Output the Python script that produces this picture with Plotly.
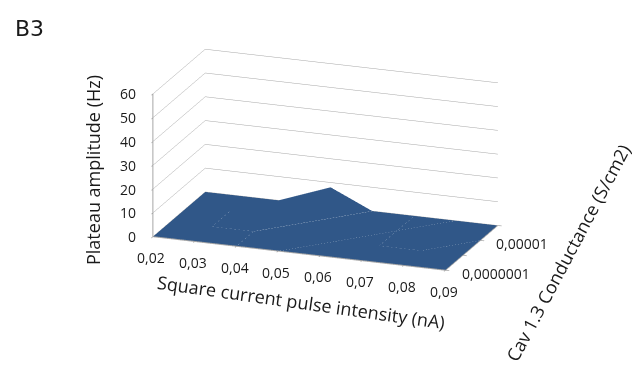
import math
import plotly.graph_objects as go

pulse_intensity = [0.02, 0.03, 0.04, 0.05, 0.06, 0.07, 0.08, 0.09]
pulse_labels = ["0,02", "0,03", "0,04", "0,05", "0,06", "0,07", "0,08", "0,09"]
conductance_rows = [0, 1, 2, 3]
conductance_labels = ["0,0000001", "", "0,00001", ""]
amp_row0 = [0, 0, 0, 0, 0, 0, 0, 0]
amp_row1 = [0, 0, 0, 3, 0, 0, 0, 0]
amp_row2 = [0, 0, 6, 0, 4, 0, 3, 0]
amp_row3 = [0, 0, 0, 8, 0, 0, 0, 0]
amp_rows = [amp_row0, amp_row1, amp_row2, amp_row3]
z_ticks = [0, 10, 20, 30, 40, 50, 60]

TICK_FONT = dict(family="Open Sans", size=14, color="#1a1a1a")
TITLE_FONT = dict(family="Open Sans", size=18, color="#1a1a1a")
GREY = "#a6a6a6"

AZ, EL, DIST = math.radians(20.4), math.radians(14.7), 2.93
eye = dict(x=DIST * math.cos(EL) * math.sin(AZ), y=-DIST * math.cos(EL) * math.cos(AZ), z=DIST * math.sin(EL))

xs, ys, zs, ii, jj, kk = [], [], [], [], [], []
nx = len(pulse_intensity)
for r, row in zip(conductance_rows, amp_rows):
    for x, z in zip(pulse_intensity, row):
        xs.append(x); ys.append(r); zs.append(z)
for r in range(len(conductance_rows) - 1):
    for c in range(nx - 1):
        a = r * nx + c
        b = a + 1
        d = a + nx
        e = d + 1
        ii += [a, a]; jj += [b, e]; kk += [e, d]

fig = go.Figure(go.Mesh3d(
    x=xs, y=ys, z=zs, i=ii, j=jj, k=kk,
    color="#3a6aa6", flatshading=True,
    lighting=dict(ambient=0.82, diffuse=0.55, specular=0.0, roughness=1, fresnel=0),
    lightposition=dict(x=-800, y=-500, z=600),
    hoverinfo="skip", showscale=False,
))

scene_ann = []
for x, t in zip(pulse_intensity, pulse_labels):
    scene_ann.append(dict(x=x, y=0, z=0, text=t, showarrow=False, font=TICK_FONT, xshift=-2, yshift=-21))
for r, t in zip(conductance_rows, conductance_labels):
    if t:
        scene_ann.append(dict(x=pulse_intensity[-1], y=r, z=0, text=t, showarrow=False, font=TICK_FONT,
                              xanchor="left", xshift=14, yshift=-3))
for v in z_ticks:
    scene_ann.append(dict(x=pulse_intensity[0], y=0, z=v, text=str(v), showarrow=False, font=TICK_FONT,
                          xanchor="right", xshift=-15))

ax_common = dict(showbackground=False, showticklabels=False, title=dict(text=""), showspikes=False,
                 showline=True, linecolor=GREY, linewidth=2, ticks="outside", ticklen=4,
                 tickcolor=GREY, tickwidth=2, zeroline=False)
fig.update_layout(
    width=640, height=371,
    margin=dict(l=0, r=0, t=0, b=0),
    paper_bgcolor="white",
    showlegend=False,
    scene=dict(
        domain=dict(x=[0, 1], y=[0, 1]),
        aspectmode="manual", aspectratio=dict(x=1.68, y=0.82, z=0.81),
        camera=dict(eye=eye, center=dict(x=0.015, y=0, z=-0.19),
                    up=dict(x=0, y=0, z=1), projection=dict(type="orthographic")),
        xaxis=dict(range=[0.02, 0.09], tickvals=pulse_intensity, showgrid=False, **ax_common),
        yaxis=dict(range=[0, 3], tickvals=conductance_rows, showgrid=False, **ax_common),
        zaxis=dict(range=[0, 60], tickvals=z_ticks, showgrid=True, gridcolor="#a6a6a6", gridwidth=1, **ax_common),
        annotations=scene_ann,
    ),
)

def add_text(text, cx, cy, angle, font=TITLE_FONT):
    fig.add_annotation(text=text, x=cx / 640, y=1 - cy / 371, xref="paper", yref="paper", showarrow=False,
                       textangle=angle, font=font, xanchor="center", yanchor="middle")

add_text("B3", 21, 21, 0, dict(family="DejaVu Sans", size=22, color="#1a1a1a"))
add_text("Plateau amplitude (Hz)", 85, 162, -90)
add_text("Square current pulse intensity (nA)", 293, 294, 8)
add_text("Cav 1.3 Conductance (S/cm2)", 560, 245, -62)

fig.write_html("out.html")
